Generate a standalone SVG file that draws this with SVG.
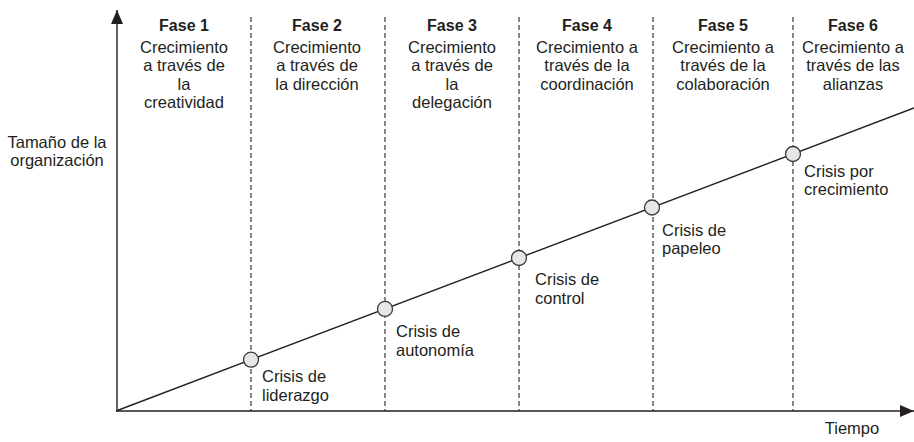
<svg xmlns="http://www.w3.org/2000/svg" width="914" height="442" viewBox="0 0 914 442">
<defs>
<style>
text{font-family:"Liberation Sans",Arial,sans-serif;font-size:16.5px;fill:#231f20}
.h{font-weight:bold;font-size:16px;text-anchor:middle}
.c{text-anchor:middle}
.ax{stroke:#231f20;stroke-width:1.4;fill:none}
.dash{stroke:#3a3a3a;stroke-width:1.2;stroke-dasharray:5 3;fill:none}
.node{fill:#e6e6e6;stroke:#3a3a3a;stroke-width:1.3}
</style>
<marker id="arr" markerWidth="14" markerHeight="12" refX="14" refY="6" orient="auto" markerUnits="userSpaceOnUse">
<path d="M0,0 L14,6 L0,12 Z" fill="#231f20"/>
</marker>
</defs>
<rect width="914" height="442" fill="#ffffff"/>
<g id="connectors">
<line class="dash" x1="251" y1="17" x2="251" y2="411"/>
<line class="dash" x1="385" y1="17" x2="385" y2="411"/>
<line class="dash" x1="519" y1="17" x2="519" y2="411"/>
<line class="dash" x1="653" y1="17" x2="653" y2="411"/>
<line class="dash" x1="793" y1="17" x2="793" y2="411"/>
<line class="ax" x1="117" y1="411" x2="117" y2="10" marker-end="url(#arr)"/>
<line class="ax" x1="116" y1="411" x2="914" y2="411" marker-end="url(#arr)"/>
<line class="ax" x1="116" y1="411" x2="914" y2="108"/>
</g>
<g id="axis-y-label">
<text class="c" x="57" y="148">Tamaño de la</text>
<text class="c" x="57" y="166">organización</text>
</g>
<g id="axis-x-label">
<text class="c" x="852" y="434">Tiempo</text>
</g>
<g id="fase1">
<text class="h" x="184" y="31">Fase 1</text>
<text class="c" x="184" y="53">Crecimiento</text>
<text class="c" x="184" y="71">a través de</text>
<text class="c" x="184" y="89.5">la</text>
<text class="c" x="184" y="108">creatividad</text>
</g>
<g id="fase2">
<text class="h" x="317" y="31">Fase 2</text>
<text class="c" x="317" y="53">Crecimiento</text>
<text class="c" x="317" y="71">a través de</text>
<text class="c" x="317" y="89.5">la dirección</text>
</g>
<g id="fase3">
<text class="h" x="452" y="31">Fase 3</text>
<text class="c" x="452" y="53">Crecimiento</text>
<text class="c" x="452" y="71">a través de</text>
<text class="c" x="452" y="89.5">la</text>
<text class="c" x="452" y="108">delegación</text>
</g>
<g id="fase4">
<text class="h" x="587" y="31">Fase 4</text>
<text class="c" x="587" y="53">Crecimiento a</text>
<text class="c" x="587" y="71">través de la</text>
<text class="c" x="587" y="89.5">coordinación</text>
</g>
<g id="fase5">
<text class="h" x="723" y="31">Fase 5</text>
<text class="c" x="723" y="53">Crecimiento a</text>
<text class="c" x="723" y="71">través de la</text>
<text class="c" x="723" y="89.5">colaboración</text>
</g>
<g id="fase6">
<text class="h" x="853" y="31">Fase 6</text>
<text class="c" x="853" y="53">Crecimiento a</text>
<text class="c" x="853" y="71">través de las</text>
<text class="c" x="853" y="89.5">alianzas</text>
</g>
<g id="crisis1">
<circle class="node" cx="251" cy="359.7" r="7.5"/>
<text x="262" y="382">Crisis de</text>
<text x="262" y="401">liderazgo</text>
</g>
<g id="crisis2">
<circle class="node" cx="385" cy="308.9" r="7.5"/>
<text x="396" y="337">Crisis de</text>
<text x="396" y="356">autonomía</text>
</g>
<g id="crisis3">
<circle class="node" cx="519" cy="258" r="7.5"/>
<text x="535" y="285">Crisis de</text>
<text x="535" y="304">control</text>
</g>
<g id="crisis4">
<circle class="node" cx="652" cy="207.5" r="7.5"/>
<text x="662" y="236">Crisis de</text>
<text x="662" y="254">papeleo</text>
</g>
<g id="crisis5">
<circle class="node" cx="793" cy="154" r="7.5"/>
<text x="804" y="177">Crisis por</text>
<text x="804" y="195">crecimiento</text>
</g>
</svg>
